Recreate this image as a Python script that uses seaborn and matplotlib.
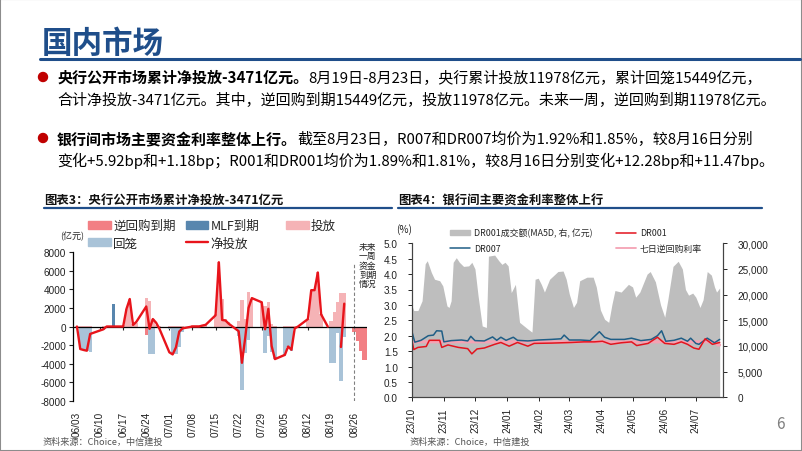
import pandas as pd
import numpy as np
import matplotlib
matplotlib.use("Agg")
import matplotlib.pyplot as plt
import seaborn as sns
from matplotlib.patches import Rectangle, Ellipse, Patch
from matplotlib.lines import Line2D
import matplotlib.ticker as mticker

W, H = 802, 452
sns.set_theme(style="white")
plt.rcParams["font.family"] = ["Noto Sans CJK SC", "DejaVu Sans"]
plt.rcParams["axes.unicode_minus"] = False

# ---------------- Chart 3 data (亿元) ----------------
op_dates = ["06-03", "06-04", "06-05", "06-06", "06-07",
            "06-11", "06-12", "06-13", "06-14",
            "06-17", "06-18", "06-19", "06-20", "06-21",
            "06-24", "06-25", "06-26", "06-27", "06-28",
            "07-01", "07-02", "07-03", "07-04", "07-05",
            "07-08", "07-09", "07-10", "07-11", "07-12",
            "07-15", "07-16", "07-17", "07-18", "07-19",
            "07-22", "07-23", "07-24", "07-25", "07-26",
            "07-29", "07-30", "07-31", "08-01", "08-02",
            "08-05", "08-06", "08-07", "08-08", "08-09",
            "08-12", "08-13", "08-14", "08-15", "08-16",
            "08-19", "08-20", "08-21", "08-22", "08-23"]
injection = [20, 20, 20, 20, 20,
             100, 100, 100, 100,
             200, 1900, 3000, 300, 400,
             3100, 2700, 800, 200, 100,
             100, 50, 50, 50, 50,
             150, 150, 150, 150, 150,
             1300, 6900, 3000, 800, 500,
             600, 2800, 800, 3700, 3000,
             2600, 2200, 2600, 300, 100,
             100, 100, 100, 100, 100,
             800, 3900, 3900, 5800, 1300,
             574, 1580, 2607, 3627, 3590]
withdrawal = [0, -2400, -2500, -2600, -2700,
              -400, 0, 0, 0,
              0, -50, -50, -100, -100,
              0, -2900, -2900, 0, 0,
              -300, -2800, -3000, -2200, -600,
              0, 0, 0, 0, 0,
              0, 0, 0, 0, 0,
              -1000, -6800, -2800, -1500, -100,
              -200, -2800, -1000, -2700, -3500,
              -3200, -2200, -2600, -300, 0,
              0, -100, -100, -100, -100,
              -3900, -3900, -680, -5830, -1140]
# net line: the chart draws it up to 08/18, then again for 08/22-08/23
net_dates_a = ["06-03", "06-04", "06-05", "06-06", "06-07",
               "06-11", "06-12", "06-13", "06-14",
               "06-17", "06-18", "06-19", "06-20", "06-21",
               "06-24", "06-25", "06-26", "06-27", "06-28",
               "07-01", "07-02", "07-03", "07-04", "07-05",
               "07-08", "07-09", "07-10", "07-11", "07-12",
               "07-15", "07-16", "07-17", "07-18", "07-19",
               "07-22", "07-23", "07-24", "07-25", "07-26",
               "07-29", "07-30", "07-31", "08-01", "08-02",
               "08-05", "08-06", "08-07", "08-08", "08-09",
               "08-12", "08-13", "08-14", "08-15", "08-16", "08-18"]
net_values_a = [0, -2420, -2520, -2600, -800,
                -300, 0, 0, 0,
                0, 1880, 2950, 170, 500,
                2150, -250, 800, 400, -250,
                -2770, -3000, -2240, -540, -200,
                0, 0, 0, 100, 180,
                1200, 6900, 700, 650, 300,
                -500, -3900, -1200, 2000, 3050,
                2600, -300, 1900, -2100, -3500,
                -3050, -2150, -2500, -200, 0,
                800, 3900, 3900, 5800, 1300, 0]
net_dates_b = ["08-22", "08-23"]
net_values_b = [-2200, 2450]
mlf_dates = ["06-14"]
mlf_maturity = [2400]
rr_dates = ["06-24", "08-26", "08-27", "08-28", "08-29", "08-30"]
rr_maturity = [-900, -574, -1580, -2607, -3627, -3590]
tick3_dates = ["06-03", "06-10", "06-17", "06-24", "07-01", "07-08", "07-15",
               "07-22", "07-29", "08-05", "08-12", "08-19", "08-26"]
tick3_labels = ["06/03", "06/10", "06/17", "06/24", "07/01", "07/08", "07/15",
                "07/22", "07/29", "08/05", "08/12", "08/19", "08/26"]

# ---------------- Chart 4 data ----------------
vol_dates = ["2023-10-01", "2023-10-03", "2023-10-07", "2023-10-11", "2023-10-14", "2023-10-16",
             "2023-10-20", "2023-10-23", "2023-10-28", "2023-10-31", "2023-11-04", "2023-11-06",
             "2023-11-08", "2023-11-10", "2023-11-13", "2023-11-16", "2023-11-20", "2023-11-25",
             "2023-11-28", "2023-12-01", "2023-12-04", "2023-12-08", "2023-12-12", "2023-12-14",
             "2023-12-20", "2023-12-24", "2023-12-27", "2023-12-30", "2024-01-02", "2024-01-05",
             "2024-01-09", "2024-01-10", "2024-01-13", "2024-01-21", "2024-01-25", "2024-01-28",
             "2024-01-31", "2024-02-03", "2024-02-06", "2024-02-11", "2024-02-19", "2024-02-24",
             "2024-02-27", "2024-03-01", "2024-03-05", "2024-03-08", "2024-03-11", "2024-03-18",
             "2024-03-24", "2024-03-27", "2024-03-31", "2024-04-04", "2024-04-08", "2024-04-11",
             "2024-04-14", "2024-04-20", "2024-04-27", "2024-05-01", "2024-05-04", "2024-05-08",
             "2024-05-15", "2024-05-18", "2024-05-23", "2024-05-28", "2024-06-01", "2024-06-04",
             "2024-06-09", "2024-06-14", "2024-06-18", "2024-06-21", "2024-06-24", "2024-06-28",
             "2024-07-01", "2024-07-05", "2024-07-08", "2024-07-12", "2024-07-16", "2024-07-19",
             "2024-07-21", "2024-07-24"]
vol_values = [18000, 16900, 16900, 18800, 26000, 26600,
              24300, 23000, 22700, 21700, 17800, 17500,
              18800, 26300, 27200, 26300, 25500, 25600,
              26300, 25000, 19800, 13900, 13600, 27500,
              27700, 26600, 25900, 26300, 25600, 20400,
              22000, 20100, 14600, 13300, 12700, 23000,
              23200, 22000, 20500, 23000, 24500, 24600,
              23000, 20100, 17500, 18500, 22700, 23400,
              23400, 21500, 17000, 15200, 14600, 18000,
              20800, 20500, 22000, 21500, 19500, 20500,
              24000, 24500, 22500, 18000, 15600, 19000,
              25500, 26500, 25000, 21000, 19900, 20300,
              19500, 17500, 19000, 24500, 23800, 21500,
              20500, 21300]
dr007_dates = ["2023-10-01", "2023-10-04", "2023-10-10", "2023-10-17", "2023-10-22", "2023-10-25",
               "2023-10-30", "2023-11-01", "2023-11-08", "2023-11-18", "2023-11-24", "2023-11-27",
               "2023-12-01", "2023-12-10", "2023-12-18", "2023-12-22", "2023-12-26", "2023-12-31",
               "2024-01-07", "2024-01-11", "2024-01-21", "2024-01-31", "2024-02-13", "2024-02-22",
               "2024-02-25", "2024-03-01", "2024-03-12", "2024-03-21", "2024-03-30", "2024-04-04",
               "2024-04-10", "2024-04-23", "2024-04-30", "2024-05-09", "2024-05-19", "2024-05-25",
               "2024-05-29", "2024-06-02", "2024-06-10", "2024-06-17", "2024-06-23", "2024-06-26",
               "2024-07-01", "2024-07-04", "2024-07-12", "2024-07-19", "2024-07-24"]
dr007_values = [2.16, 1.79, 1.85, 2.00, 2.02, 2.16,
                2.15, 1.80, 1.84, 1.86, 1.83, 1.98,
                1.84, 1.83, 1.96, 1.85, 1.95, 1.85,
                1.95, 1.85, 1.83, 1.86, 1.88, 1.90,
                2.02, 1.86, 1.86, 1.84, 2.13, 1.95,
                1.88, 1.88, 1.92, 1.84, 1.88, 2.00,
                2.16, 1.82, 1.85, 1.92, 1.82, 1.92,
                1.75, 1.72, 1.92, 1.77, 1.88]
dr001_dates = ["2023-10-01", "2023-10-03", "2023-10-07", "2023-10-15", "2023-10-18", "2023-10-28",
               "2023-10-30", "2023-11-05", "2023-11-15", "2023-11-24", "2023-11-28", "2023-12-03",
               "2023-12-10", "2023-12-20", "2023-12-26", "2024-01-03", "2024-01-11", "2024-01-21",
               "2024-01-27", "2024-02-13", "2024-03-03", "2024-03-15", "2024-03-25", "2024-04-02",
               "2024-04-10", "2024-04-20", "2024-04-30", "2024-05-05", "2024-05-16", "2024-05-25",
               "2024-06-01", "2024-06-10", "2024-06-17", "2024-06-23", "2024-06-29", "2024-07-04",
               "2024-07-10", "2024-07-17", "2024-07-24"]
dr001_values = [1.88, 1.55, 1.62, 1.65, 1.85, 1.85,
                1.62, 1.70, 1.62, 1.58, 1.41, 1.57,
                1.60, 1.72, 1.78, 1.66, 1.78, 1.66,
                1.75, 1.76, 1.78, 1.80, 1.80, 1.82,
                1.72, 1.77, 1.80, 1.68, 1.75, 1.95,
                1.75, 1.72, 1.80, 1.72, 1.60, 1.56,
                1.90, 1.72, 1.78]
policy_dates = ["2023-10-01", "2024-07-21", "2024-07-22", "2024-07-24"]
policy_values = [1.8, 1.8, 1.7, 1.7]
month_ticks = ["2023-10-01", "2023-11-01", "2023-12-01", "2024-01-01", "2024-02-01",
               "2024-03-01", "2024-04-01", "2024-05-01", "2024-06-01", "2024-07-01"]
month_labels = ["23/10", "23/11", "23/12", "24/01", "24/02",
                "24/03", "24/04", "24/05", "24/06", "24/07"]

# ---------------- colours ----------------
C_INJ = "#F5B3B6"
C_WD = "#A9C3D8"
C_MLF = "#5886AE"
C_RR = "#F27F84"
C_NET = "#E8141B"
NAVY = "#1F4E8A"

fig = plt.figure(figsize=(W / 100, H / 100), dpi=100)
fig.patch.set_facecolor("white")


def fx(x):
    return x / W


def fy(y):
    return 1 - y / H


def dd(lst):
    base = pd.Timestamp("2024-06-03")
    return [(pd.Timestamp("2024-" + s) - base).days for s in lst]


# ---------------- Chart 3 ----------------
ax1 = fig.add_axes([fx(73), fy(402), (367 - 73) / W, (402 - 253) / H])
bar_kw = dict(native_scale=True, saturation=1, width=1, errorbar=None, linewidth=0, ax=ax1)
sns.barplot(x=dd(op_dates), y=injection, color=C_INJ, **bar_kw)
sns.barplot(x=dd(op_dates), y=withdrawal, color=C_WD, **bar_kw)
sns.barplot(x=dd(mlf_dates), y=mlf_maturity, color=C_MLF, **bar_kw)
sns.barplot(x=dd(rr_dates), y=rr_maturity, color=C_RR, **bar_kw)
sns.lineplot(x=dd(net_dates_a), y=net_values_a, color=C_NET, linewidth=1.7, ax=ax1, zorder=6)
sns.lineplot(x=dd(net_dates_b), y=net_values_b, color=C_NET, linewidth=1.7, ax=ax1, zorder=6)
ax1.axhline(0, color="black", lw=0.9, zorder=5)
ax1.axvline(dd(["08-26"])[0], ymin=0.0, ymax=0.92, color="#808080", lw=0.8, ls=(0, (3, 2)), zorder=4)
ax1.set_xlim(-1.2, 87.9)
ax1.set_ylim(-8000, 8000)
ax1.set_yticks(range(-8000, 8001, 2000))
ax1.set_xticks(dd(tick3_dates))
ax1.set_xticklabels(tick3_labels, rotation=90, fontsize=7.2, family=["Liberation Sans"])
ax1.set_yticklabels([str(v) for v in range(-8000, 8001, 2000)], fontsize=7.2, family=["Liberation Sans"])
ax1.set_xlabel("")
ax1.set_ylabel("")
for s in ["top", "right", "bottom"]:
    ax1.spines[s].set_visible(False)
ax1.spines["left"].set_color("black")
ax1.spines["left"].set_linewidth(0.9)
ax1.tick_params(axis="y", which="both", left=True, length=3, width=0.8, direction="out", pad=2, colors="#222222")
ax1.tick_params(axis="x", which="both", bottom=False, length=0, pad=7, colors="#222222")
sec = ax1.secondary_xaxis(0.5)
sec.set_xticks(dd(tick3_dates))
sec.tick_params(axis="x", direction="out", length=2.5, width=0.8, labelbottom=False, labeltop=False,
                bottom=True, top=False)
sec.spines["bottom"].set_visible(False)
sec.spines["top"].set_visible(False)
ax1.set_facecolor("none")

fig.text(fx(72), fy(237), "(亿元)", fontsize=6.5, ha="center", va="center", color="#222222")
fig.text(fx(359), fy(266), "未来\n一周\n资金\n到期\n情况", fontsize=6.3, ha="left", va="center",
         linespacing=1.05, color="#222222")

h_rr = Patch(color=C_RR)
h_wd = Patch(color=C_WD)
h_mlf = Patch(color=C_MLF)
h_net = Line2D([], [], color=C_NET, lw=1.7)
h_inj = Patch(color=C_INJ)
legA = ax1.legend([h_rr, h_wd, h_mlf, h_net], ["逆回购到期", "回笼", "MLF到期", "净投放"], ncol=2,
                  loc="upper left", bbox_to_anchor=(fx(88), fy(220)), bbox_transform=fig.transFigure,
                  frameon=False, fontsize=9, handlelength=1.8, handleheight=0.6, handletextpad=0.2,
                  columnspacing=0.8, labelspacing=0.35, borderpad=0, borderaxespad=0)
ax1.add_artist(legA)
ax1.legend([h_inj], ["投放"], loc="upper left", bbox_to_anchor=(fx(286), fy(220)),
           bbox_transform=fig.transFigure, frameon=False, fontsize=9, handlelength=1.8,
           handleheight=0.6, handletextpad=0.2, borderpad=0, borderaxespad=0)

# ---------------- Chart 4 ----------------
ax2 = fig.add_axes([fx(411.7), fy(398.3), (723.3 - 411.7) / W, (398.3 - 244.3) / H])
ax2r = ax2.twinx()
vd = pd.to_datetime(vol_dates)
ax2r.fill_between(vd, vol_values, 0, color="#BEBEBE", lw=0)
ax2r.set_ylim(0, 30000)
ax2r.set_yticks(range(0, 30001, 5000))
ax2r.yaxis.set_major_formatter(mticker.FuncFormatter(lambda v, p: f"{int(v):,}"))
sns.lineplot(x=pd.to_datetime(policy_dates), y=policy_values, color="#F4A3B4", linewidth=2.2, ax=ax2)
sns.lineplot(x=pd.to_datetime(dr007_dates), y=dr007_values, color="#1F5E86", linewidth=1.1, ax=ax2)
sns.lineplot(x=pd.to_datetime(dr001_dates), y=dr001_values, color="#E3141E", linewidth=1.1, ax=ax2)
ax2.set_zorder(ax2r.get_zorder() + 1)
ax2.patch.set_visible(False)
ax2.set_ylim(0, 5)
ax2.set_yticks(np.arange(0, 5.01, 0.5))
ax2.yaxis.set_major_formatter(mticker.FormatStrFormatter("%.1f"))
ax2.set_xlim(pd.Timestamp("2023-10-01"), pd.Timestamp("2024-07-27 12:00"))
ax2.set_xticks(pd.to_datetime(month_ticks))
ax2.set_xticklabels(month_labels, rotation=90)
ax2.set_xlabel("")
ax2.set_ylabel("")
for a in (ax2, ax2r):
    a.spines["top"].set_visible(False)
    for s in ["left", "right", "bottom"]:
        a.spines[s].set_color("#444444")
        a.spines[s].set_linewidth(0.8)
for lab in ax2.get_xticklabels() + ax2.get_yticklabels() + ax2r.get_yticklabels():
    lab.set_fontsize(7.2)
    lab.set_family(["Liberation Sans"])
    lab.set_color("#222222")
ax2.tick_params(axis="y", left=True, length=3, width=0.7, direction="out", pad=7)
ax2.tick_params(axis="x", bottom=True, length=3, width=0.7, direction="out", pad=4)
ax2r.tick_params(axis="y", right=True, length=3, width=0.7, direction="out", pad=7)
fig.text(fx(404), fy(230), "(%)", fontsize=7.2, ha="center", va="center", color="#222222")

h_vol = Patch(color="#BEBEBE")
h_007 = Line2D([], [], color="#1F5E86", lw=1.1)
h_001 = Line2D([], [], color="#E3141E", lw=1.1)
h_pol = Line2D([], [], color="#F4A3B4", lw=1.3)
ax2.legend([h_vol, h_007, h_001, h_pol], ["DR001成交额(MA5D, 右, 亿元)", "DR007", "DR001", "七日逆回购利率"],
           ncol=2, loc="upper left", bbox_to_anchor=(fx(450), fy(229)), bbox_transform=fig.transFigure,
           frameon=False, fontsize=6.4, handlelength=2.3, handleheight=0.5, handletextpad=0.4,
           columnspacing=2.6, labelspacing=0.75, borderpad=0, borderaxespad=0)

# ---------------- slide decoration ----------------
fig.patches.append(Rectangle((0, 0), 1, 1, transform=fig.transFigure, fill=False,
                             edgecolor="#8C8C8C", lw=1.5))
fig.text(fx(42), fy(44), "国内市场", fontsize=22, fontweight="bold", color=NAVY, ha="left", va="center")
fig.add_artist(Line2D([fx(40), fx(800)], [fy(60), fy(60)], color=NAVY, lw=2.2))

# chart titles + rules
fig.text(fx(44), fy(201), "图表3：央行公开市场累计净投放-3471亿元", fontsize=8.9, fontweight="bold",
         ha="left", va="center", color="#111111")
fig.text(fx(398), fy(201), "图表4：银行间主要资金利率整体上行", fontsize=8.9, fontweight="bold",
         ha="left", va="center", color="#111111")
fig.add_artist(Line2D([fx(44), fx(392)], [fy(209), fy(209)], color=NAVY, lw=1.6))
fig.add_artist(Line2D([fx(398), fx(762)], [fy(209), fy(209)], color=NAVY, lw=1.6))

fig.text(fx(43), fy(442), "资料来源：Choice，中信建投", fontsize=6.6, style="italic", color="#555555",
         ha="left", va="center")
fig.text(fx(410), fy(442), "资料来源：Choice，中信建投", fontsize=6.6, style="italic", color="#555555",
         ha="left", va="center")
fig.text(fx(780), fy(425), "6", fontsize=11, color="#7F7F7F", ha="center", va="center")

# bullets
for yb in (78, 139):
    fig.patches.append(Ellipse((fx(43), fy(yb)), 9 / W, 9 / H, transform=fig.transFigure,
                               color="#C00000"))

fig.canvas.draw()
renderer = fig.canvas.get_renderer()


def rich_line(x_px, y_px, parts, size=10.8):
    x = x_px
    for txt, bold in parts:
        t = fig.text(x / W, fy(y_px), txt, fontsize=size, fontweight="bold" if bold else "normal",
                     ha="left", va="center", color="#000000")
        bb = t.get_window_extent(renderer=renderer)
        x = bb.x1


rich_line(57, 78, [("央行公开市场累计净投放-3471亿元。", True),
                   ("8月19日-8月23日，央行累计投放11978亿元，累计回笼15449亿元，", False)])
rich_line(57, 100, [("合计净投放-3471亿元。其中，逆回购到期15449亿元，投放11978亿元。未来一周，逆回购到期11978亿元。", False)])
rich_line(57, 139, [("银行间市场主要资金利率整体上行。", True),
                    ("截至8月23日，R007和DR007均价为1.92%和1.85%，较8月16日分别", False)])
rich_line(57, 161, [("变化+5.92bp和+1.18bp；R001和DR001均价为1.89%和1.81%，较8月16日分别变化+12.28bp和+11.47bp。", False)])

fig.savefig("out.png", dpi=100)
